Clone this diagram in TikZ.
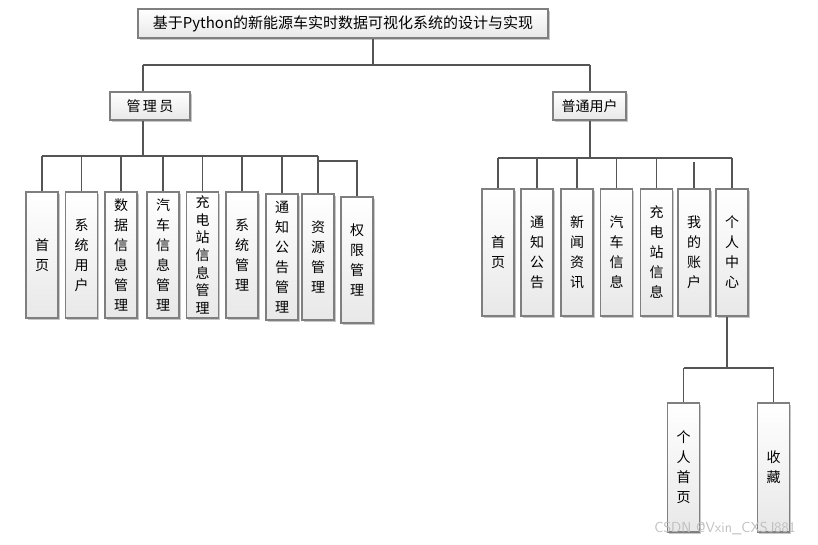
\documentclass[tikz,border=0pt]{standalone}
\usepackage{fontspec}
\newfontfamily\cjk{Noto Sans CJK SC}
\usetikzlibrary{shadows}
\definecolor{boxgray}{HTML}{7F7F7F}
\definecolor{linegray}{HTML}{555555}
\tikzset{
  box/.style={draw=boxgray, line width=1.1pt, top color=white, bottom color=black!9,
    drop shadow={shadow xshift=1.6pt, shadow yshift=-1.6pt, opacity=0.22, fill=black},
    inner sep=0pt, align=center, font=\cjk\fontsize{14}{20}\selectfont},
  vbox/.style={box, minimum width=32pt, minimum height=126pt},
  hbox/.style={box, minimum height=28pt},
  link/.style={draw=linegray, line width=1.1pt},
}
\begin{document}
\begin{tikzpicture}[x=1pt,y=-1pt]
\useasboundingbox (0,0) rectangle (818,544);
% top level
\node[hbox, minimum width=410pt, minimum height=29pt, font=\cjk\fontsize{15}{18}\selectfont] (title) at (343,23.5) {基于Python的新能源车实时数据可视化系统的设计与实现};
\node[hbox, minimum width=80pt] (admin) at (150,106) {管\,理\,员};
\node[hbox, minimum width=73pt] (user) at (589.5,106) {普通用户};
% admin children
\node[vbox] (a1) at (42,255) {首\\页};
\node[vbox] (a2) at (81.5,255) {系\\统\\用\\户};
\node[vbox] (a3) at (121,255) {数\\据\\信\\息\\管\\理};
\node[vbox] (a4) at (163,255) {汽\\车\\信\\息\\管\\理};
\node[vbox, font=\cjk\fontsize{14}{17.6}\selectfont] (a5) at (202.5,255) {充\\电\\站\\信\\息\\管\\理};
\node[vbox] (a6) at (242,255) {系\\统\\管\\理};
\node[vbox] (a7) at (282,257) {通\\知\\公\\告\\管\\理};
\node[vbox] (a8) at (318,257) {资\\源\\管\\理};
\node[vbox] (a9) at (357,260) {权\\限\\管\\理};
% user children
\node[vbox, minimum height=127pt] (u1) at (498,252.5) {首\\页};
\node[vbox, minimum height=127pt] (u2) at (537,252.5) {通\\知\\公\\告};
\node[vbox, minimum height=127pt] (u3) at (577,252.5) {新\\闻\\资\\讯};
\node[vbox, minimum height=127pt] (u4) at (616.5,252.5) {汽\\车\\信\\息};
\node[vbox, minimum height=127pt] (u5) at (656.5,252.5) {充\\电\\站\\信\\息};
\node[vbox, minimum height=127pt] (u6) at (694,252.5) {我\\的\\账\\户};
\node[vbox, minimum height=127pt] (u7) at (732,252.5) {个\\人\\中\\心};
% personal center children
\node[vbox, minimum height=129pt] (p1) at (683.5,467.5) {个\\人\\首\\页};
\node[vbox, minimum height=129pt] (p2) at (773.5,467.5) {收\\藏};
% connectors
\coordinate (j0) at (373,65);
\coordinate (h1L) at (143,65);
\coordinate (h1R) at (590,65);
\draw[link] (title.south -| j0) -- (j0);
\draw[link] (h1L) -- (h1R);
\draw[link] (h1L) -- (h1L |- admin.north);
\draw[link] (h1R) -- (h1R |- user.north);
% admin tree
\coordinate (ja) at (143,156);
\draw[link] (admin.south -| ja) -- (ja);
\draw[link] (a1.north |- ja) -- (a8.north |- ja);
\foreach \n in {a1,a2,a3,a4,a5,a6,a7,a8} \draw[link] (\n.north |- ja) -- (\n.north);
\coordinate (jb) at (318,161);
\draw[link] (jb) -- (a9.north |- jb) -- (a9.north);
% user tree
\coordinate (ju) at (590,158);
\draw[link] (user.south -| ju) -- (ju);
\draw[link] (u1.north |- ju) -- (u7.north |- ju);
\foreach \n in {u1,u2,u3,u4,u5,u7} \draw[link] (\n.north |- ju) -- (\n.north);
\coordinate (ju6) at (694,162);
\draw[link] (ju6) -- (u6.north);
% personal center tree
\coordinate (jp) at (727,368);
\draw[link] (u7.south -| jp) -- (jp);
\draw[link] (p1.north |- jp) -- (p2.north |- jp);
\draw[link] (p1.north |- jp) -- (p1.north);
\draw[link] (p2.north |- jp) -- (p2.north);
% watermark
\node[text=black!25, font=\fontsize{14.5}{16}\selectfont\sffamily] (wm) at (725,528) {CSDN @Vxin\_CXSJ881};
\end{tikzpicture}
\end{document}
